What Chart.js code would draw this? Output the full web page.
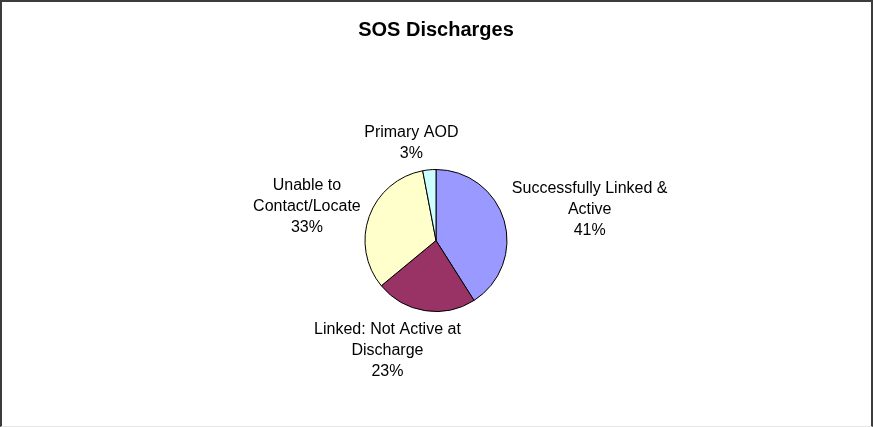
<!DOCTYPE html>
<html>
<head>
<meta charset="utf-8">
<title>SOS Discharges</title>
<script src="https://cdn.jsdelivr.net/npm/chart.js@4"></script>
<style>
  html, body { margin: 0; padding: 0; background: #fff; }
  .frame {
    width: 869px;
    height: 424px;
    border-top: 2px solid #3c3c3c;
    border-left: 2px solid #3c3c3c;
    border-right: 2px solid #3c3c3c;
    border-bottom: 1px solid #e6e6e6;
  }
  canvas { display: block; }
</style>
</head>
<body>
<div class="frame">
  <canvas id="sosDischarges" width="869" height="424"></canvas>
</div>
<script>
// Discharge outcomes (percent of all SOS discharges)
const categories = [
    ['Successfully Linked &', 'Active'],
    ['Linked: Not Active at', 'Discharge'],
    ['Unable to', 'Contact/Locate'],
    ['Primary AOD']
];
const values = [41, 23, 33, 3];
const colores = ['#9999FF', '#993366', '#FFFFCC', '#CCFFFF'];

const fuente = 'Arial, "Liberation Sans", sans-serif';

// Etiquetas fuera de cada porción: nombre + porcentaje
const etiquetasExternas = {
    id: 'etiquetasExternas',
    afterDatasetsDraw(chart, args, opts) {
        const ctx = chart.ctx;
        const meta = chart.getDatasetMeta(0);
        const total = values.reduce((a, b) => a + b, 0);
        ctx.save();
        ctx.font = opts.size + 'px ' + fuente;
        ctx.fillStyle = '#000';
        ctx.textAlign = 'center';
        ctx.textBaseline = 'middle';
        meta.data.forEach((arc, i) => {
            const lines = [...categories[i], Math.round(values[i] / total * 100) + '%'];
            const w = Math.max(...lines.map(l => ctx.measureText(l).width));
            const h = lines.length * opts.lineHeight;
            const mid = (arc.startAngle + arc.endAngle) / 2;
            const cos = Math.cos(mid), sin = Math.sin(mid);
            const r = arc.outerRadius + opts.gap;
            const nudge = opts.nudge[i] || [0, 0];
            const cx = arc.x + cos * r + cos * w / 2 + nudge[0];
            const cy = arc.y + sin * r + sin * h / 2 + nudge[1];
            lines.forEach((l, k) => {
                ctx.fillText(l, cx, cy - h / 2 + opts.lineHeight * (k + 0.5));
            });
        });
        ctx.restore();
    }
};

const ctx = document.getElementById('sosDischarges').getContext('2d');

new Chart(ctx, {
    type: 'pie',
    data: {
        labels: categories,
        datasets: [{
            data: values,
            backgroundColor: colores,
            borderColor: '#000',
            borderWidth: 1
        }]
    },
    options: {
        responsive: false,
        animation: false,
        radius: 71,
        layout: {
            padding: { top: 0, bottom: 0, left: 0, right: 1 }
        },
        plugins: {
            legend: { display: false },
            tooltip: { enabled: false },
            title: {
                display: true,
                text: 'SOS Discharges',
                color: '#000',
                font: { family: fuente, size: 20, weight: 'bold', lineHeight: 1.2 },
                padding: { top: 16, bottom: 13 }
            },
            etiquetasExternas: {
                size: 16,
                lineHeight: 21,
                gap: 6,
                nudge: [[5, -1], [-25, 3], [-6, 3], [-13, 0]]
            }
        }
    },
    plugins: [etiquetasExternas]
});
</script>
</body>
</html>
